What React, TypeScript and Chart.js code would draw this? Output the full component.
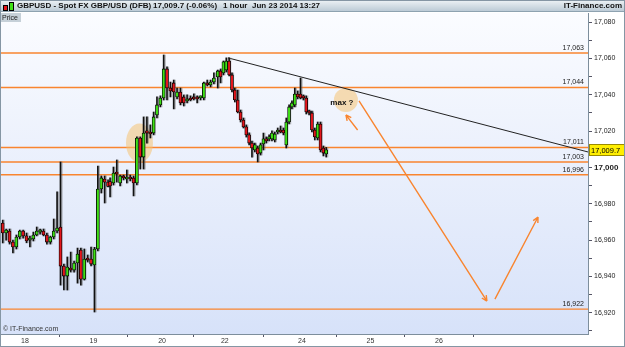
import React, { useEffect, useRef } from "react";
import { Chart, registerables } from "chart.js";
Chart.register(...registerables);

// ---- Candle data (GBPUSD 1 hour) ----
const OPEN = [
  16969.4, 16963.9, 16965.0, 16958.9, 16956.2, 16961.7, 16965.0, 16962.3, 16960.0, 16960.6,
  16962.8, 16964.4, 16965.0, 16962.8, 16958.9, 16961.7, 16965.0, 16967.2, 16945.7, 16940.2,
  16944.6, 16943.5, 16947.4, 16954.5, 16938.5, 16950.1, 16949.6, 16946.3, 16955.1, 16988.1,
  16993.6, 16991.9,
  16992.2, 16991.4, 16997.5, 16991.4, 16994.7, 16993.6, 16994.7, 16994.2, 16991.4, 17016.2,
  17005.7, 17019.5, 17019.5, 17018.9, 17028.9, 17034.4, 17038.2, 17054.2, 17043.7, 17046.5,
  17038.8, 17041.5, 17038.8, 17036.6, 17038.2, 17038.8, 17038.2, 17038.2, 17038.2, 17046.5,
  17045.4, 17047.0,
  17049.8, 17053.1, 17052.0, 17053.6, 17058.6, 17050.9, 17042.6, 17037.1, 17030.5, 17026.1,
  17022.3, 17017.9, 17013.4, 17009.6, 17010.7, 17007.9, 17012.9, 17015.7, 17015.7, 17015.7,
  17015.1, 17019.5, 17020.6, 17020.6, 17012.4, 17025.0, 17033.3, 17034.4, 17040.4, 17040.4,
  17038.8, 17038.2, 17030.5, 17030.0, 17020.6, 17016.2, 17023.9, 17010.7, 17007.4,
];
const HIGH = [
  16971.0, 16966.1, 16966.1, 16960.0, 16962.8, 16965.5, 16965.5, 16963.9, 16962.2, 16964.4,
  16967.2, 16966.1, 16966.1, 16963.9, 16962.2, 16971.6, 16986.5, 17003.0, 16946.8, 16950.7,
  16953.4, 16948.5, 16955.6, 16955.6, 16955.1, 16951.8, 16956.2, 16956.0, 17000.8, 16995.3,
  16995.3, 16993.1,
  16994.2, 17000.2, 17004.1, 16995.8, 16995.8, 16998.6, 16995.8, 16995.3, 17016.8, 17016.8,
  17027.8, 17027.8, 17023.4, 17030.5, 17038.8, 17039.4, 17061.9, 17055.3, 17047.0, 17048.1,
  17043.7, 17043.7, 17039.9, 17039.9, 17039.4, 17040.5, 17039.4, 17039.4, 17047.0, 17048.1,
  17048.1, 17052.0,
  17053.6, 17054.2, 17058.6, 17060.3, 17060.3, 17052.0, 17043.7, 17042.6, 17031.6, 17027.2,
  17023.4, 17019.0, 17014.5, 17013.4, 17011.8, 17013.4, 17018.9, 17016.8, 17017.9, 17020.1,
  17019.5, 17021.7, 17022.8, 17021.7, 17027.2, 17034.4, 17036.6, 17043.7, 17042.1, 17049.2,
  17039.9, 17039.4, 17031.6, 17031.0, 17021.7, 17025.0, 17025.0, 17011.8, 17011.0,
];
const LOW = [
  16958.4, 16960.0, 16957.8, 16952.9, 16955.1, 16960.6, 16961.1, 16958.5, 16956.2, 16959.5,
  16962.3, 16963.3, 16962.3, 16957.8, 16957.8, 16960.6, 16963.9, 16935.2, 16932.5, 16932.5,
  16942.4, 16942.4, 16936.3, 16935.2, 16938.0, 16947.9, 16945.8, 16920.4, 16954.0, 16985.9,
  16980.4, 16989.2,
  16983.7, 16990.3, 16991.9, 16989.8, 16993.1, 16991.4, 16992.5, 16984.3, 16990.3, 16999.1,
  16999.1, 17013.4, 17016.2, 17017.9, 17027.2, 17033.3, 17037.1, 17037.1, 17038.8, 17032.2,
  17037.7, 17034.4, 17033.8, 17035.5, 17036.6, 17037.1, 17035.5, 17037.1, 17037.1, 17044.8,
  17044.3, 17045.9,
  17043.7, 17046.5, 17050.9, 17052.5, 17050.3, 17041.5, 17036.0, 17030.0, 17025.0, 17021.7,
  17016.7, 17012.4, 17005.7, 17008.5, 17003.0, 17006.8, 17009.6, 17013.4, 17014.6, 17014.6,
  17014.0, 17018.4, 17019.0, 17017.9, 17010.7, 17023.9, 17032.2, 17033.3, 17037.7, 17037.7,
  17037.1, 17029.4, 17028.9, 17019.5, 17015.1, 17015.1, 17008.5, 17006.3, 17005.7,
];
const CLOSE = [
  16963.9, 16965.5, 16958.9, 16956.2, 16961.7, 16965.0, 16962.3, 16959.5, 16961.1, 16962.8,
  16965.0, 16965.0, 16962.8, 16958.9, 16961.7, 16965.0, 16966.6, 16945.7, 16940.2, 16945.2,
  16943.5, 16947.4, 16952.3, 16938.5, 16949.6, 16949.0, 16946.8, 16955.1, 16988.1, 16994.2,
  16991.9, 16989.5,
  16989.8, 16996.9, 16996.4, 16995.3, 16994.2, 16994.7, 16993.6, 16991.4, 17016.2, 17005.7,
  17018.9, 17018.9, 17018.4, 17027.8, 17034.4, 17038.2, 17054.2, 17043.7, 17042.1, 17041.5,
  17041.5, 17035.5, 17035.5, 17037.7, 17037.1, 17037.7, 17037.7, 17038.8, 17046.5, 17045.4,
  17047.0, 17049.2,
  17053.1, 17049.8, 17058.1, 17058.6, 17050.9, 17042.6, 17037.1, 17030.5, 17026.1, 17022.3,
  17017.9, 17013.4, 17010.7, 17012.4, 17007.4, 17012.4, 17015.7, 17014.6, 17016.8, 17018.9,
  17018.4, 17020.6, 17019.5, 17019.0, 17025.0, 17033.3, 17035.5, 17040.4, 17038.8, 17038.2,
  17038.2, 17030.5, 17030.0, 17020.6, 17016.8, 17023.9, 17009.6, 17007.9, 17009.7,
];

// time axis in trading hours from Jun 18 00:00; candles come in three sessions
const SESSION_START = [-7.8, 29.8, 67.5];
const SESSION_STEP = [1.19, 1.173, 1.0];
const SESSION_COUNT = [32, 32, 39];

const X_MIN = -8.4;
const X_MAX = 197.2;
const DAY_TICKS = [0, 24, 48, 70, 97, 121, 145];
const DAY_LABELS = ["18", "19", "20", "22", "24", "25", "26"];

const Y_MIN = 16908.3;
const Y_MAX = 17085;
const Y_TICK_START = 16910;
const Y_TICK_END = 17080;

const LEVELS = [17063, 17044, 17011, 17003, 16996, 16922];
const LAST_PRICE = 17009.7;

const TREND_X = [71.1, 197.2];
const TREND_Y = [17060.3, 17008.5];

// arrows: [fromX, fromY, toX, toY]
const ARROWS = [
  [116.5, 17020.6, 112.4, 17028.9],
  [117.0, 17036.6, 161.8, 16926.4],
  [164.6, 16927.5, 179.7, 16972.7],
];
// highlight marks: [x, y]
const HIGHLIGHTS = [
  [40.1, 17013.4],
  [112.4, 17037.1],
];
const NOTE = { x: 111.0, y: 17035.5, text: "max ?" };

const FONT = '"Liberation Sans", Arial, sans-serif';
const fmt = (v: number, d = 0) =>
  v.toLocaleString("en-US", { minimumFractionDigits: d, maximumFractionDigits: d });

export default function App() {
  const ref = useRef<HTMLCanvasElement>(null);
  useEffect(() => {
    const canvas = ref.current!;
    const xs: number[] = [];
    SESSION_START.forEach((s, i) => {
      for (let k = 0; k < SESSION_COUNT[i]; k++) xs.push(s + k * SESSION_STEP[i]);
    });
    const up = OPEN.map((o, k) => CLOSE[k] >= o);

    const bgPlugin = {
      id: "bg",
      beforeDraw(chart: any) {
        const { ctx, chartArea: a } = chart;
        ctx.save();
        ctx.fillStyle = "#ffffff";
        ctx.fillRect(0, 0, chart.width, chart.height);
        const g = ctx.createLinearGradient(0, a.top, 0, a.bottom);
        g.addColorStop(0, "#fbfcff");
        g.addColorStop(1, "#d7e2f9");
        ctx.fillStyle = g;
        ctx.fillRect(a.left, a.top, a.right - a.left, a.bottom - a.top);
        ctx.restore();
      },
      beforeDatasetsDraw(chart: any) {
        const { ctx, chartArea: a } = chart;
        const sx = chart.scales.x, sy = chart.scales.y;
        ctx.save();
        // level lines
        ctx.strokeStyle = "#f9852f";
        ctx.lineWidth = 1.4;
        LEVELS.forEach((lv) => {
          const py = sy.getPixelForValue(lv);
          ctx.beginPath();
          ctx.moveTo(a.left, py);
          ctx.lineTo(a.right, py);
          ctx.stroke();
        });
        ctx.fillStyle = "rgba(246, 194, 115, 0.55)";
        HIGHLIGHTS.forEach(([hx, hy], i) => {
          ctx.beginPath();
          if (i === 0) ctx.ellipse(sx.getPixelForValue(hx), sy.getPixelForValue(hy), 13.5, 19.5, 0, 0, Math.PI * 2);
          else ctx.arc(sx.getPixelForValue(hx), sy.getPixelForValue(hy), 12, 0, Math.PI * 2);
          ctx.fill();
        });
        ctx.restore();
      },
      afterDatasetsDraw(chart: any) {
        const { ctx, chartArea: a } = chart;
        const sx = chart.scales.x, sy = chart.scales.y;
        ctx.save();
        // level labels
        ctx.font = `7px ${FONT}`;
        ctx.fillStyle = "#222";
        ctx.textAlign = "right";
        ctx.textBaseline = "bottom";
        LEVELS.forEach((lv) => {
          ctx.fillText(fmt(lv), a.right - 4, Math.round(sy.getPixelForValue(lv)) - 1);
        });
        // arrows
        ctx.strokeStyle = "#f9852f";
        ctx.lineWidth = 1.4;
        ARROWS.forEach(([x1, y1, x2, y2]) => {
          const p1x = sx.getPixelForValue(x1), p1y = sy.getPixelForValue(y1);
          const p2x = sx.getPixelForValue(x2), p2y = sy.getPixelForValue(y2);
          ctx.beginPath();
          ctx.moveTo(p1x, p1y);
          ctx.lineTo(p2x, p2y);
          const ang = Math.atan2(p2y - p1y, p2x - p1x);
          const L = 6;
          ctx.moveTo(p2x, p2y);
          ctx.lineTo(p2x - L * Math.cos(ang - 0.45), p2y - L * Math.sin(ang - 0.45));
          ctx.moveTo(p2x, p2y);
          ctx.lineTo(p2x - L * Math.cos(ang + 0.45), p2y - L * Math.sin(ang + 0.45));
          ctx.stroke();
        });
        // note
        ctx.font = `bold 8px ${FONT}`;
        ctx.fillStyle = "#111";
        ctx.textAlign = "center";
        ctx.textBaseline = "middle";
        ctx.fillText(NOTE.text, sx.getPixelForValue(NOTE.x), sy.getPixelForValue(NOTE.y));
        // copyright
        ctx.font = `7px ${FONT}`;
        ctx.fillStyle = "#333";
        ctx.textAlign = "left";
        ctx.textBaseline = "bottom";
        ctx.fillText("© IT-Finance.com", a.left + 2, a.bottom - 1);
        ctx.restore();
      },
      afterDraw(chart: any) {
        const { ctx, chartArea: a } = chart;
        const sy = chart.scales.y;
        const py = Math.round(sy.getPixelForValue(LAST_PRICE));
        ctx.save();
        ctx.fillStyle = "#ffee00";
        ctx.strokeStyle = "#9a8a00";
        ctx.lineWidth = 1;
        ctx.fillRect(a.right + 1, py - 6, 36, 12);
        ctx.strokeRect(a.right + 1.5, py - 5.5, 35, 11);
        ctx.font = `7.5px ${FONT}`;
        ctx.fillStyle = "#000";
        ctx.textAlign = "left";
        ctx.textBaseline = "middle";
        ctx.fillText(fmt(LAST_PRICE, 1), a.right + 3, py + 0.5);
        ctx.restore();
      },
    };

    const chart = new Chart(canvas, {
      type: "bar",
      data: {
        datasets: [
          {
            type: "line",
            data: TREND_X.map((x, i) => ({ x, y: TREND_Y[i] })),
            borderColor: "#222",
            borderWidth: 1,
            pointRadius: 0,
            order: 19,
          } as any,
          {
            type: "bar",
            data: xs.map((x, k) => ({ x: x + 0.45, y: [LOW[k], HIGH[k]] })),
            backgroundColor: "rgba(110,110,110,0.5)",
            barThickness: 1,
            order: 12,
          } as any,
          {
            type: "bar",
            data: xs.map((x, k) => ({ x, y: [LOW[k], HIGH[k]] })),
            backgroundColor: "#111",
            barThickness: 1,
            order: 11,
          } as any,
          {
            type: "bar",
            data: xs.map((x, k) => ({
              x,
              y: [Math.min(OPEN[k], CLOSE[k]), Math.max(OPEN[k], CLOSE[k]) + (Math.abs(OPEN[k] - CLOSE[k]) < 0.6 ? 0.6 : 0)],
            })),
            backgroundColor: up.map((u) => (u ? "#3fe016" : "#e4171c")),
            borderColor: "#000",
            borderWidth: 0.8,
            borderSkipped: false,
            barThickness: 3,
            order: 10,
          } as any,
        ],
      },
      options: {
        responsive: false,
        animation: false,
        layout: { padding: { top: 13, left: 1, right: 0, bottom: 0 } },
        plugins: { legend: { display: false }, tooltip: { enabled: false } },
        datasets: { bar: { grouped: false } } as any,
        scales: {
          x: {
            type: "linear",
            min: X_MIN,
            max: X_MAX,
            offset: false,
            afterBuildTicks: (s: any) => {
              s.ticks = DAY_TICKS.map((v) => ({ value: v }));
            },
            afterFit: (s: any) => {
              s.height = 13;
            },
            ticks: {
              autoSkip: false,
              maxRotation: 0,
              padding: 0,
              color: "#333",
              font: { size: 7, family: FONT },
              callback: (v: any) => {
                const i = DAY_TICKS.indexOf(Number(v));
                return i >= 0 ? DAY_LABELS[i] : "";
              },
            },
            grid: { drawOnChartArea: false, tickLength: 3, color: "#556" },
            border: { color: "#7d8e9c" },
          },
          y: {
            type: "linear",
            position: "right",
            min: Y_MIN,
            max: Y_MAX,
            afterBuildTicks: (s: any) => {
              const t = [];
              for (let v = Y_TICK_START; v <= Y_TICK_END; v += 10) t.push({ value: v });
              s.ticks = t;
            },
            afterFit: (s: any) => {
              s.width = 37;
            },
            ticks: {
              autoSkip: false,
              padding: 2,
              color: "#222",
              font: (c: any) =>
                c.tick && c.tick.value === 17000
                  ? { size: 8, weight: "bold", family: FONT }
                  : { size: 7, family: FONT },
              callback: (v: any) => (Number(v) % 20 === 0 ? fmt(Number(v)) : ""),
            },
            grid: { drawOnChartArea: false, tickLength: 4, color: "#556" },
            border: { color: "#7d8e9c" },
          },
        },
      },
      plugins: [bgPlugin],
    } as any);
    return () => chart.destroy();
  }, []);

  const seg = (left: number, text: string) => (
    <span style={{ position: "absolute", left, top: 1, whiteSpace: "nowrap" }}>{text}</span>
  );

  return (
    <div style={{ position: "absolute", left: 0, top: 0, width: 625, height: 347, overflow: "hidden", background: "#fff" }}>
      <canvas ref={ref} width={625} height={347} style={{ position: "absolute", left: 0, top: 0, width: 625, height: 347 }} />
      <div
        style={{
          position: "absolute",
          left: 0,
          top: 0,
          width: 625,
          height: 12,
          boxSizing: "border-box",
          background: "linear-gradient(#eef3f6, #bccbd6)",
          borderBottom: "1px solid #8ea2b0",
          font: `bold 8px ${FONT}`,
          color: "#111",
          lineHeight: "10px",
        }}
      >
        <span style={{ position: "absolute", left: 3, top: 5, width: 3, height: 4, background: "#e4171c", border: "1px solid #000" }} />
        <span style={{ position: "absolute", left: 9, top: 2, width: 3, height: 7, background: "#3fe016", border: "1px solid #000" }} />
        {seg(17, "GBPUSD - Spot FX GBP/USD (DFB)")}
        {seg(153, "17,009.7 (-0.06%)")}
        {seg(223, "1 hour")}
        {seg(252, "Jun 23 2014 13:27")}
        <span style={{ position: "absolute", right: 3, top: 1, whiteSpace: "nowrap" }}>IT-Finance.com</span>
      </div>
      <div
        style={{
          position: "absolute",
          left: 1,
          top: 13,
          width: 19,
          height: 9,
          background: "#c6d0d8",
          font: `7px ${FONT}`,
          color: "#222",
          lineHeight: "9px",
          paddingLeft: 1,
        }}
      >
        Price
      </div>
      <div
        style={{
          position: "absolute",
          left: 0,
          top: 0,
          width: 625,
          height: 347,
          boxSizing: "border-box",
          border: "1px solid #8596a4",
          pointerEvents: "none",
        }}
      />
    </div>
  );
}
